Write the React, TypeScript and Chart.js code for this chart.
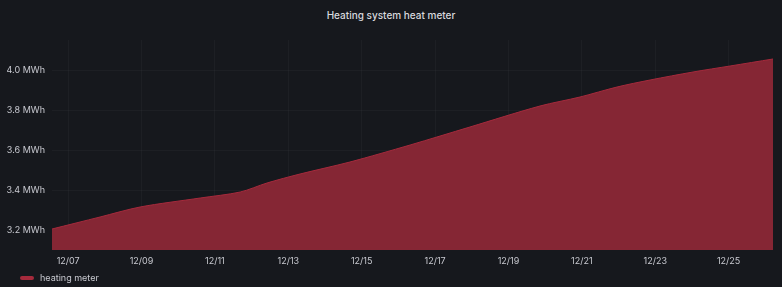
import React, { useEffect, useRef } from "react";
import { Chart, registerables } from "chart.js";

Chart.register(...registerables);

const chartTitle = "Heating system heat meter";
const seriesName = "heating meter";
// days since 12/07 00:00
const dayOffsets = [-0.44, 0.87, 1.96, 3.6, 4.69, 5.42, 6.32, 7.68, 9.32, 10.95, 12.86, 13.95, 14.96, 15.86, 17.03, 18.04, 19.21];
const meterMWh = [3.205, 3.265, 3.315, 3.36, 3.39, 3.435, 3.48, 3.54, 3.625, 3.715, 3.82, 3.865, 3.915, 3.95, 3.99, 4.02, 4.055];
const yTicks = [3.2, 3.4, 3.6, 3.8, 4.0];
const xTickDays = [0, 2, 4, 6, 8, 10, 12, 14, 16, 18];
const baseMonth = 12;
const baseDay = 7;

export default function App() {
  const ref = useRef<HTMLCanvasElement | null>(null);
  useEffect(() => {
    document.body.style.margin = "0";
    const ctx = ref.current!;
    const chart = new Chart(ctx, {
      type: "line",
      data: {
        datasets: [
          {
            label: seriesName,
            data: dayOffsets.map((d, i) => ({ x: d, y: meterMWh[i] })),
            borderColor: "#a52a3c",
            backgroundColor: "#852634",
            borderWidth: 1,
            fill: "start",
            pointRadius: 0,
            tension: 0.3,
          },
        ],
      },
      options: {
        animation: false,
        responsive: false,
        maintainAspectRatio: false,
        layout: { padding: { top: 40, right: 9, left: 0, bottom: 0 } },
        plugins: { legend: { display: false }, title: { display: false }, tooltip: { enabled: false } },
        scales: {
          x: {
            type: "linear",
            min: dayOffsets[0],
            max: dayOffsets[dayOffsets.length - 1],
            afterBuildTicks: (s: any) => {
              s.ticks = xTickDays.map((v) => ({ value: v }));
            },
            afterFit: (s: any) => {
              s.height = 37;
            },
            ticks: {
              color: "#c8c9d0",
              font: { size: 9, family: "Inter" },
              padding: 6,
              maxRotation: 0,
              callback: (v: any) => {
                const d = baseDay + Number(v);
                return String(baseMonth).padStart(2, "0") + "/" + String(d).padStart(2, "0");
              },
            },
            grid: { color: "rgba(255,255,255,0.03)", drawTicks: false },
            border: { display: false },
          },
          y: {
            min: 3.1,
            max: 4.15,
            afterBuildTicks: (s: any) => {
              s.ticks = yTicks.map((v) => ({ value: v }));
            },
            afterFit: (s: any) => {
              s.width = 52;
            },
            ticks: {
              color: "#c8c9d0",
              font: { size: 9, family: "Inter" },
              padding: 7,
              callback: (v: any) => Number(v).toFixed(1) + " MWh",
            },
            grid: { color: "rgba(255,255,255,0.03)", drawTicks: false },
            border: { display: false },
          },
        },
      },
    });
    return () => chart.destroy();
  }, []);

  return (
    <div style={{ position: "relative", width: 782, height: 287, background: "#16181d", fontFamily: "Inter, sans-serif", overflow: "hidden" }}>
      <div style={{ position: "absolute", top: 9, left: 0, width: 782, textAlign: "center", color: "#d8d9de", fontSize: 10, fontWeight: 500 }}>
        {chartTitle}
      </div>
      <canvas ref={ref} width={782} height={287} style={{ position: "absolute", left: 0, top: 0 }} />
      <div style={{ position: "absolute", left: 20, top: 272, display: "flex", alignItems: "center", color: "#c8c9d0", fontSize: 9 }}>
        <span style={{ display: "inline-block", width: 14, height: 4, borderRadius: 2, background: "#a52a3c", marginRight: 6 }} />
        {seriesName}
      </div>
    </div>
  );
}
